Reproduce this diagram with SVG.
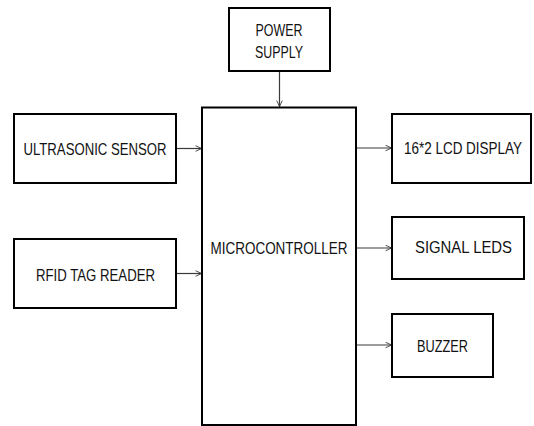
<svg xmlns="http://www.w3.org/2000/svg" width="534" height="426" viewBox="0 0 534 426">
  <defs>
    <style>
      .box { fill: #ffffff; stroke: #000000; stroke-width: 2; }
      .lbl { font-family: "Liberation Sans", Arial, sans-serif; font-size: 16.5px; fill: #111111; text-anchor: middle; }
      .wire { stroke: #3a3a3a; stroke-width: 1.2; fill: none; }
    </style>
    <marker id="arrow" viewBox="0 0 10 10" refX="9.5" refY="5" markerWidth="7" markerHeight="7" markerUnits="userSpaceOnUse" orient="auto">
      <path d="M1,1 L9.5,5 L1,9" fill="none" stroke="#3a3a3a" stroke-width="1.3"/>
    </marker>
  </defs>
  <rect width="534" height="426" fill="#ffffff"/>

  <g id="connectors">
    <line class="wire" x1="279.5" y1="71" x2="279.5" y2="106.5" marker-end="url(#arrow)"/>
    <line class="wire" x1="176" y1="148.5" x2="201.5" y2="148.5" marker-end="url(#arrow)"/>
    <line class="wire" x1="176" y1="273.5" x2="201.5" y2="273.5" marker-end="url(#arrow)"/>
    <line class="wire" x1="356" y1="148" x2="391.5" y2="148" marker-end="url(#arrow)"/>
    <line class="wire" x1="356" y1="248" x2="391.5" y2="248" marker-end="url(#arrow)"/>
    <line class="wire" x1="356" y1="345" x2="391.5" y2="345" marker-end="url(#arrow)"/>
  </g>

  <g id="power-supply">
    <rect class="box" x="229" y="8" width="101" height="63"/>
    <text class="lbl" x="279" y="36" textLength="47" lengthAdjust="spacingAndGlyphs">POWER</text>
    <text class="lbl" x="279" y="58" textLength="48" lengthAdjust="spacingAndGlyphs">SUPPLY</text>
  </g>

  <g id="microcontroller">
    <rect class="box" x="202" y="107.5" width="154" height="317.5"/>
    <text class="lbl" x="279" y="254" textLength="137" lengthAdjust="spacingAndGlyphs">MICROCONTROLLER</text>
  </g>

  <g id="ultrasonic-sensor">
    <rect class="box" x="14" y="114" width="162" height="69"/>
    <text class="lbl" x="95" y="155" textLength="143" lengthAdjust="spacingAndGlyphs">ULTRASONIC SENSOR</text>
  </g>

  <g id="rfid-tag-reader">
    <rect class="box" x="14" y="239" width="162" height="69"/>
    <text class="lbl" x="95.5" y="281" textLength="119" lengthAdjust="spacingAndGlyphs">RFID TAG READER</text>
  </g>

  <g id="lcd-display">
    <rect class="box" x="392" y="114" width="139" height="69"/>
    <text class="lbl" x="463" y="154" textLength="118" lengthAdjust="spacingAndGlyphs">16*2 LCD DISPLAY</text>
  </g>

  <g id="signal-leds">
    <rect class="box" x="392" y="217" width="132" height="62"/>
    <text class="lbl" x="463.5" y="253" textLength="97" lengthAdjust="spacingAndGlyphs">SIGNAL LEDS</text>
  </g>

  <g id="buzzer">
    <rect class="box" x="392" y="314" width="101" height="63"/>
    <text class="lbl" x="442.5" y="352" textLength="51" lengthAdjust="spacingAndGlyphs">BUZZER</text>
  </g>
</svg>
